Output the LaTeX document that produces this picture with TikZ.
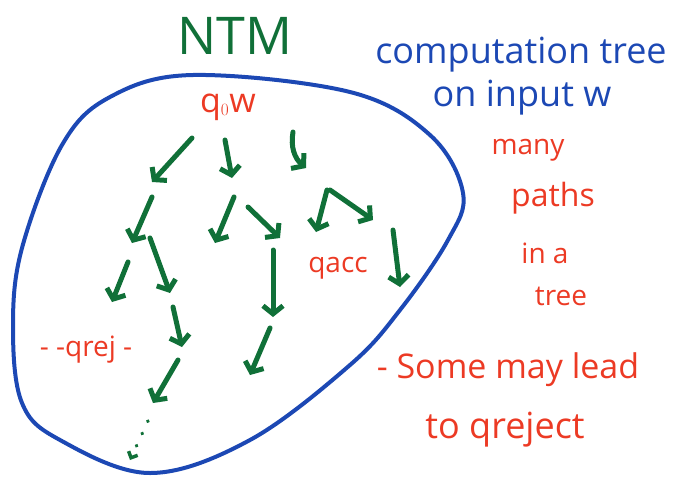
\documentclass[tikz,border=0pt]{standalone}
\usepackage{fontspec}
\setmainfont{Open Sans}
\usetikzlibrary{arrows.meta}
\definecolor{inkgreen}{RGB}{16,112,56}
\definecolor{inkred}{RGB}{236,58,36}
\definecolor{inkblue}{RGB}{28,72,180}
\tikzset{
  branch/.style={draw=inkgreen, line width=5pt, line cap=round,
    -{Straight Barb[length=8pt,width=20pt]}},
  redtext/.style={text=inkred, inner sep=0pt},
  bluetext/.style={text=inkblue, inner sep=0pt},
}
\newcommand{\fs}[1]{\fontsize{#1}{#1}\selectfont}
\begin{document}
\begin{tikzpicture}[x=1pt, y=-1pt]
  \useasboundingbox (0,0) rectangle (690,477);

  % the blob round the tree
  \draw[inkblue, line width=4pt] plot[smooth cycle, tension=0.6] coordinates {
    (193,75) (350,92) (430,135) (463,193) (448,240) (400,310) (350,365)
    (250,440) (150,473) (60,440) (22,403) (13,327) (22,248) (62,145) (110,97)};

  \node[text=inkgreen, inner sep=0pt] (ntm) at (235,36) {\fs{52}NTM};
  \node[bluetext] (ctree) at (521,55) {\fs{36}computation tree};
  \node[bluetext] (oninput) at (522,98) {\fs{36}on input w};

  \node[redtext] (many) at (528,150) {\fs{28}many};
  \node[redtext] (paths) at (553,198) {\fs{32}paths};
  \node[redtext] (ina) at (545,253) {\fs{28}in a};
  \node[redtext] (tree) at (561,296) {\fs{28}tree};
  \node[redtext] (some) at (508,370) {\fs{34}- Some may lead};
  \node[redtext] (toqrej) at (505,430) {\fs{36}to qreject};

  \node[redtext] (root) at (228,107) {\fs{34}q$_{\scriptscriptstyle 0}$w};
  \node[redtext] (acc) at (338,268) {\fs{28}qacc};
  \node[redtext] (rej) at (86,350) {\fs{28}- -qrej -};

  % first level
  \coordinate (a1s) at (192,138); \coordinate (a1e) at (152,182);
  \coordinate (a2s) at (225,140); \coordinate (a2e) at (232,178);
  \coordinate (a3s) at (293,132); \coordinate (a3e) at (306,168);
  \draw[branch] (a1s) -- (a1e);
  \draw[branch] (a2s) -- (a2e);
  \draw[branch] (a3s) to[bend right=30] (a3e);

  % second level
  \coordinate (b1s) at (152,197); \coordinate (b1e) at (132,243);
  \coordinate (b2s) at (234,197); \coordinate (b2e) at (215,243);
  \coordinate (b3s) at (248,207); \coordinate (b3e) at (280,238);
  \coordinate (b4s) at (327,190); \coordinate (b4e) at (316,232);
  \coordinate (b5s) at (330,190); \coordinate (b5e) at (373,220);
  \draw[branch] (b1s) -- (b1e);
  \draw[branch] (b2s) -- (b2e);
  \draw[branch] (b3s) -- (b3e);
  \draw[branch] (b4s) -- (b4e);
  \draw[branch] (b5s) -- (b5e);

  % third level
  \coordinate (c1s) at (128,262); \coordinate (c1e) at (112,302);
  \coordinate (c2s) at (150,238); \coordinate (c2e) at (170,293);
  \coordinate (c3s) at (273,250); \coordinate (c3e) at (273,317);
  \coordinate (c4s) at (393,230); \coordinate (c4e) at (400,287);
  \draw[branch] (c1s) -- (c1e);
  \draw[branch] (c2s) -- (c2e);
  \draw[branch] (c3s) -- (c3e);
  \draw[branch] (c4s) -- (c4e);

  % fourth level and below
  \coordinate (d1s) at (173,307); \coordinate (d1e) at (182,347);
  \coordinate (d2s) at (270,328); \coordinate (d2e) at (250,375);
  \coordinate (e1s) at (178,360); \coordinate (e1e) at (153,403);
  \coordinate (f1s) at (148,421); \coordinate (f1e) at (130,460);
  \draw[branch] (d1s) -- (d1e);
  \draw[branch] (d2s) -- (d2e);
  \draw[branch] (e1s) -- (e1e);
  \draw[branch, line width=3.5pt, dash pattern=on 0.5pt off 13pt,
    -{Straight Barb[length=5pt,width=10pt]}] (f1s) -- (f1e);
\end{tikzpicture}
\end{document}
